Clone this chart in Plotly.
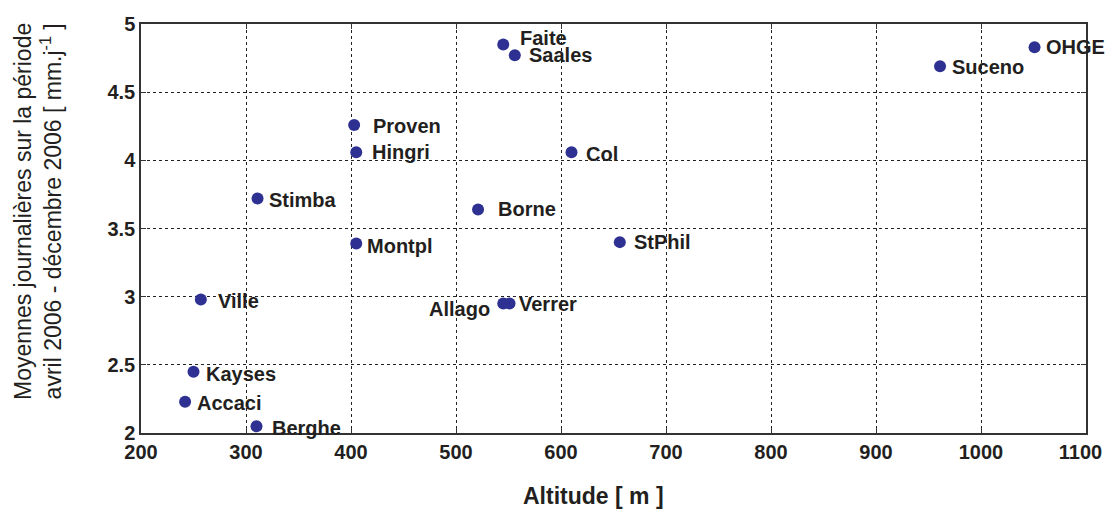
import plotly.graph_objects as go

# Stations: altitude [m] vs mean daily rainfall [mm/day]
stations = ["Faite", "Saales", "Proven", "Hingri", "Col", "Stimba", "Borne", "Montpl",
            "StPhil", "Ville", "Verrer", "Allago", "Kayses", "Accaci", "Berghe",
            "Suceno", "OHGE"]
altitude = [545, 556, 403, 405, 610, 311, 521, 405, 656, 257, 551, 545, 250, 242, 310, 961, 1051]
rainfall = [4.85, 4.77, 4.26, 4.06, 4.06, 3.72, 3.64, 3.39, 3.40, 2.98, 2.95, 2.95, 2.45, 2.23, 2.05, 4.69, 4.83]

x_ticks = [200, 300, 400, 500, 600, 700, 800, 900, 1000, 1100]
y_ticks = [2, 2.5, 3, 3.5, 4, 4.5, 5]

# label offsets in pixels (xshift, yshift, anchor)
label_pos = {
    "Faite": (15, 6, "left"), "Saales": (12, 0, "left"), "Proven": (17, -1, "left"),
    "Hingri": (14, 0, "left"), "Col": (12, -2, "left"), "Stimba": (9, -1, "left"),
    "Borne": (18, 0, "left"), "Montpl": (9, -2, "left"), "StPhil": (12, 0, "left"),
    "Ville": (15, -2, "left"), "Verrer": (7, -1, "left"), "Allago": (-11, -6, "right"),
    "Kayses": (10, -2, "left"), "Accaci": (10, -1, "left"), "Berghe": (13, -2, "left"),
    "Suceno": (10, -1, "left"), "OHGE": (9, 0, "left"),
}

FONT = "Liberation Sans, Arial, Helvetica, sans-serif"
TXT = "#231f20"

fig = go.Figure(
    go.Scatter(
        x=altitude,
        y=rainfall,
        mode="markers",
        marker=dict(size=12, color="#2e3192"),
        cliponaxis=False,
        hovertext=stations,
    )
)

for name, xv, yv in zip(stations, altitude, rainfall):
    dx, dy, anchor = label_pos[name]
    fig.add_annotation(
        x=xv, y=yv, text=name, showarrow=False,
        xanchor=anchor, yanchor="middle", xshift=dx, yshift=dy,
        font=dict(family=FONT, size=20, color=TXT, weight="bold"),
    )

# axis titles as annotations (they sit slightly off-centre in the original)
fig.add_annotation(
    xref="paper", yref="paper", x=0.479, y=-0.155, yanchor="middle",
    text="Altitude [ m ]", showarrow=False,
    font=dict(family=FONT, size=23, color=TXT, weight="bold"),
)
fig.add_annotation(
    xref="paper", yref="paper", x=-0.109, y=0.543, xanchor="center", yanchor="middle",
    text="Moyennes journalières sur la période<br>avril 2006 - décembre 2006 [ mm.j<sup>-1</sup> ]",
    textangle=-90, showarrow=False,
    font=dict(family=FONT, size=23, color=TXT),
)

axis_style = dict(
    showline=True, linecolor="#333333", linewidth=1.5, mirror="allticks",
    ticks="inside", ticklen=5, tickcolor="#333333",
    showgrid=True, gridcolor="#222222", griddash="dot", gridwidth=1,
    zeroline=False, automargin=False, ticklabeloverflow="allow",
    tickfont=dict(family=FONT, size=20, color=TXT, weight="bold"),
)

# last x label nudged left so it stays inside the page, like the original
x_ticktext = [str(v) for v in x_ticks]
x_ticktext[-1] = x_ticktext[-1] + "\u00a0\u00a0"

fig.update_layout(
    width=1105, height=512,
    margin=dict(l=141, r=19, t=24, b=79),
    plot_bgcolor="white", paper_bgcolor="white",
    showlegend=False,
    xaxis=dict(range=[200, 1100], tickvals=x_ticks, ticktext=x_ticktext, **axis_style),
    yaxis=dict(range=[2, 5], tickvals=y_ticks, ticktext=[f"{v:g}" for v in y_ticks], **axis_style),
)

# page body has a default 8px margin; drop it so the figure fills the window
fig.write_html(
    "out.html",
    config={"displayModeBar": False},
    post_script="document.body.style.margin='0';document.body.style.overflow='hidden';",
)
